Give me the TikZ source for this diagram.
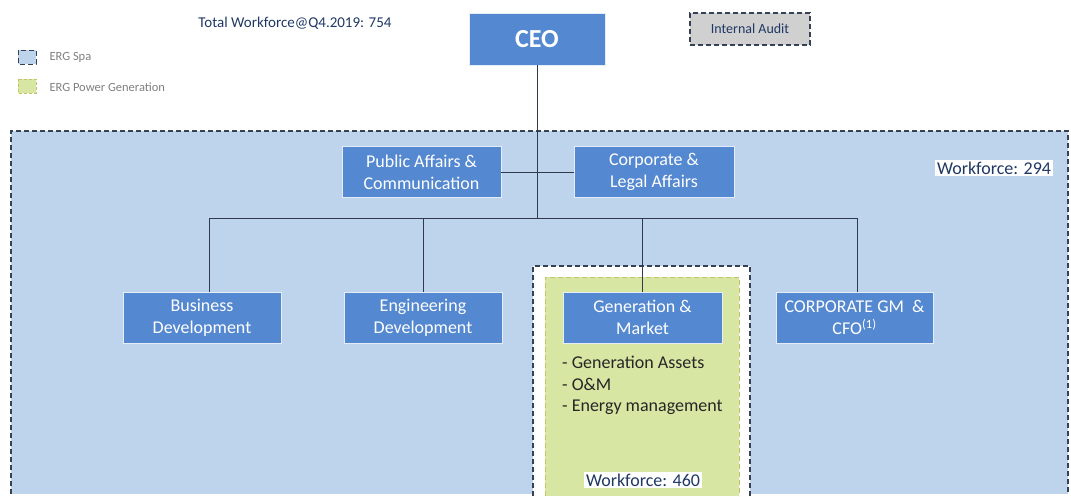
\documentclass[tikz,border=0pt]{standalone}
\usepackage{fontspec}
\setmainfont{Carlito}
\usetikzlibrary{positioning}
\definecolor{boxblue}{RGB}{84,136,208}
\definecolor{spablue}{RGB}{190,212,237}
\definecolor{pgreen}{RGB}{216,230,163}
\definecolor{pgborder}{RGB}{196,196,100}
\definecolor{dashgray}{RGB}{55,65,85}
\definecolor{navy}{RGB}{31,56,100}
\definecolor{auditgray}{RGB}{208,208,208}
\tikzset{
  unit/.style={draw=white!85!boxblue,fill=boxblue,text=white,align=center,
    minimum width=158pt,minimum height=51pt,inner sep=0pt,
    font=\fontsize{18}{22}\selectfont},
  wline/.style={draw=dashgray!90!black,line width=0.9pt},
  area/.style={draw=dashgray,dash pattern=on 5pt off 3pt,line width=1.3pt},
  tag/.style={fill=white,text=navy,inner sep=2pt,font=\fontsize{18}{20}\selectfont}
}
\begin{document}
\begin{tikzpicture}[x=1pt,y=-1pt]
\useasboundingbox (0,0) rectangle (1071,496);
% group areas
\fill[spablue] (11,131) rectangle (1068,494);
\draw[area] (11,494) -- (11,131) -- (1068,131) -- (1068,494);
\draw[area,fill=white] (533,496) -- (533,266) -- (750,266) -- (750,496);
\draw[pgborder,dash pattern=on 5pt off 3pt,fill=pgreen,line width=1pt] (545,496) -- (545,277) -- (739,277) -- (739,496);
% legend
\draw[area,fill=spablue,line width=1pt] (18,50) rectangle (36,64);
\node[anchor=west,text=gray,font=\fontsize{12.5}{14}\selectfont] (lspa) at (46,57) {ERG Spa};
\draw[pgborder,dash pattern=on 3pt off 2pt,fill=pgreen,line width=1pt] (18,79) rectangle (36,93);
\node[anchor=west,text=gray,font=\fontsize{12.5}{14}\selectfont] (lpg) at (46,87) {ERG Power Generation};
\node[text=navy,font=\fontsize{15}{18}\selectfont] (total) at (295,23) {Total Workforce@Q4.2019: 754};
% boxes
\node[unit,minimum width=136pt,minimum height=52pt,font=\fontsize{26}{28}\bfseries] (ceo) at (537,39) {CEO};
\node[draw=dashgray,dash pattern=on 5pt off 3pt,line width=1.2pt,fill=auditgray,text=navy,
  minimum width=120pt,minimum height=32pt,font=\fontsize{14}{16}\selectfont] (audit) at (750,29) {Internal Audit};
\node[unit,minimum width=159pt] (pac) at (421.5,172) {Public Affairs \&\\Communication};
\node[unit,minimum width=160pt] (cla) at (654,172) {Corporate \&\\Legal Affairs};
\node[unit] (bd) at (202,317.5) {Business\\Development};
\node[unit] (ed) at (423,317.5) {Engineering\\Development};
\node[unit,minimum width=159pt] (gm) at (642.5,317.5) {Generation \&\\Market};
\node[unit,minimum width=157pt] (cfo) at (854.5,317.5) {CORPORATE GM \ \&\\CFO\textsuperscript{(1)}};
% connectors
\coordinate (busL) at (209,218);
\coordinate (busR) at (857,218);
\draw[wline] (ceo.south) -- (ceo.south |- busL);
\draw[wline] (pac.east) -- (cla.west);
\draw[wline] (busL) -- (busR);
\draw[wline] (busL) -- (busL |- bd.north);
\draw[wline] (ed.north |- busL) -- (ed.north);
\draw[wline] (gm.north |- busL) -- (gm.north);
\draw[wline] (busR) -- (busR |- cfo.north);
% texts
\node[anchor=north west,align=left,text=black!85,inner sep=0pt,
  font=\fontsize{18}{21.5}\selectfont] (tasks) at (562,356)
  {- Generation Assets\\- O\&M\\- Energy management};
\node[tag] (wf460) at (643,480) {Workforce: 460};
\node[tag] (wf294) at (994,168) {Workforce: 294};
\end{tikzpicture}
\end{document}
